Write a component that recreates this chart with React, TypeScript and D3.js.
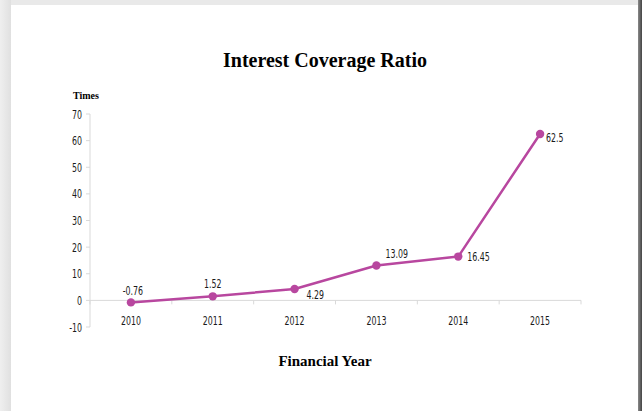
import React from "react";
import * as d3 from "d3";

const years = ["2010", "2011", "2012", "2013", "2014", "2015"];
const ratios = [-0.76, 1.52, 4.29, 13.09, 16.45, 62.5];
const yTicks = [-10, 0, 10, 20, 30, 40, 50, 60, 70];
const labelOffsets: [number, number, string][] = [
  [2, -7, "middle"],
  [0, -8, "middle"],
  [12, 10, "start"],
  [9, -8, "start"],
  [9, 4, "start"],
  [6, 8, "start"],
];

const W = 642;
const H = 411;
const left = 90;
const right = 581;
const lineColor = "#b8479f";
const axisColor = "#d9d9d9";
const narrow = "'DejaVu Sans Condensed', 'Liberation Sans Narrow', sans-serif";

function NText(props: { x: number; y: number; anchor: string; children: any }) {
  return (
    <text
      transform={`translate(${props.x},${props.y}) scale(0.7,1)`}
      textAnchor={props.anchor as any}
      fontFamily={narrow}
      fontSize={12.5}
      fill="#1a1a1a"
    >
      {props.children}
    </text>
  );
}

export default function App() {
  const x = d3.scaleBand<string>().domain(years).range([left, right]).padding(0);
  const y = d3.scaleLinear().domain([-10, 70]).range([327, 114]);
  const cx = (d: string) => (x(d) as number) + x.bandwidth() / 2;
  const line = d3
    .line<number>()
    .x((_, i) => cx(years[i]))
    .y((v) => y(v));
  const boundaries = years.map((d) => x(d) as number).concat([right]);

  return (
    <div style={{ position: "absolute", left: 0, top: 0 }}>
      <svg width={W} height={H} style={{ display: "block" }}>
        <defs>
          <linearGradient id="bgL" x1="0" x2="1" y1="0" y2="0">
            <stop offset="0" stopColor="#efefef" />
            <stop offset="1" stopColor="#e0e0e0" />
          </linearGradient>
          <linearGradient id="bgR" x1="0" x2="1" y1="0" y2="0">
            <stop offset="0" stopColor="#8a8a8a" />
            <stop offset="1" stopColor="#444444" />
          </linearGradient>
        </defs>
        <rect x={0} y={0} width={W} height={H} fill="#e9e9e9" />
        <rect x={0} y={0} width={11} height={H} fill="url(#bgL)" />
        <rect x={638} y={0} width={4} height={H} fill="url(#bgR)" />
        <rect x={11} y={5} width={627} height={H - 5} fill="#ffffff" />

        <text
          x={325}
          y={67}
          textAnchor="middle"
          fontFamily="'Liberation Serif', 'Times New Roman', serif"
          fontWeight="bold"
          fontSize={20}
          fill="#000"
        >
          Interest Coverage Ratio
        </text>
        <text
          x={73}
          y={99}
          fontFamily="'Liberation Serif', 'Times New Roman', serif"
          fontWeight="bold"
          fontSize={10}
          fill="#000"
        >
          Times
        </text>
        <text
          x={325}
          y={366}
          textAnchor="middle"
          fontFamily="'Liberation Serif', 'Times New Roman', serif"
          fontWeight="bold"
          fontSize={15}
          fill="#000"
        >
          Financial Year
        </text>

        {/* y axis */}
        <line x1={left} x2={left} y1={y(70)} y2={y(-10)} stroke={axisColor} strokeWidth={1} />
        {yTicks.map((t) => (
          <g key={t}>
            <line x1={left - 4} x2={left} y1={y(t)} y2={y(t)} stroke={axisColor} />
            <NText x={left - 8} y={y(t) + 4.5} anchor="end">
              {t}
            </NText>
          </g>
        ))}

        {/* x axis */}
        <line x1={left} x2={right} y1={y(0)} y2={y(0)} stroke={axisColor} strokeWidth={1} />
        {boundaries.map((b, i) => (
          <line key={i} x1={b} x2={b} y1={y(0)} y2={y(0) + 4} stroke={axisColor} />
        ))}
        {years.map((d) => (
          <NText key={d} x={cx(d)} y={y(0) + 25} anchor="middle">
            {d}
          </NText>
        ))}

        <path d={line(ratios) || ""} fill="none" stroke={lineColor} strokeWidth={2.5} strokeLinejoin="round" />
        {ratios.map((v, i) => (
          <circle key={i} cx={cx(years[i])} cy={y(v)} r={4.2} fill={lineColor} />
        ))}
        {ratios.map((v, i) => (
          <NText
            key={"l" + i}
            x={cx(years[i]) + labelOffsets[i][0]}
            y={y(v) + labelOffsets[i][1]}
            anchor={labelOffsets[i][2]}
          >
            {v}
          </NText>
        ))}
      </svg>
    </div>
  );
}
